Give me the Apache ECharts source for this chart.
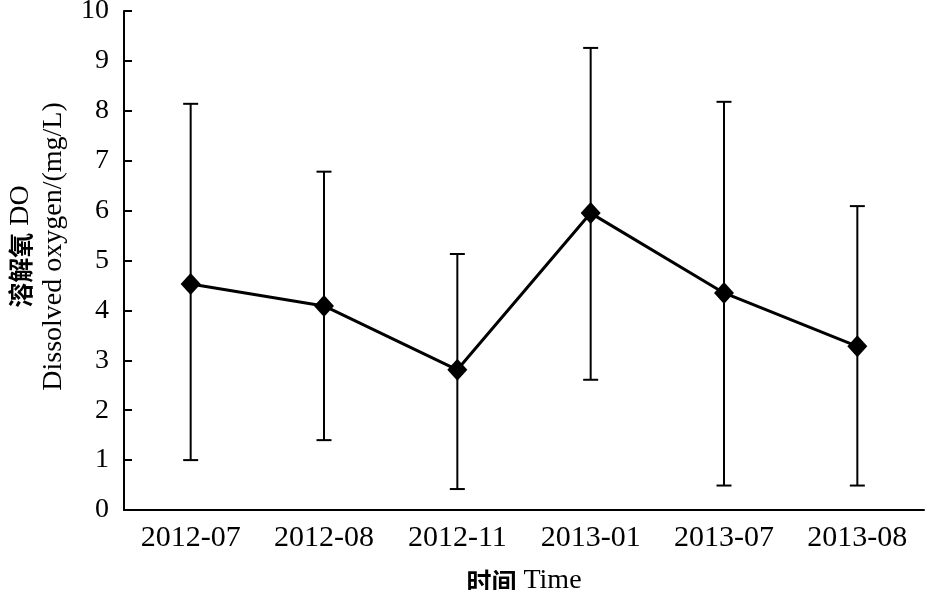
<!DOCTYPE html>
<html><head><meta charset="utf-8">
<script src="https://cdn.jsdelivr.net/npm/echarts@6/dist/echarts.min.js"></script>
<style>html,body{margin:0;padding:0;background:#fff}#c{width:925px;height:590px}</style>
</head><body><div id="c"></div>
<script>
const categories = ['2012-07','2012-08','2012-11','2013-01','2013-07','2013-08'];
const meanValues = [4.53, 4.09, 2.81, 5.95, 4.35, 3.28];
const upperValues = [8.14, 6.78, 5.13, 9.26, 8.18, 6.09];
const lowerValues = [1.0, 1.40, 0.42, 2.61, 0.49, 0.49];
const yTicks = [0,1,2,3,4,5,6,7,8,9,10];

const serif = '"Liberation Serif", "Times New Roman", "Noto Sans CJK SC", serif';
const chart = echarts.init(document.getElementById('c'));
const errData = categories.map((c,i)=>[i, lowerValues[i], upperValues[i]]);
chart.setOption({
  animation:false,
  grid:{left:124, right:1, top:11, bottom:80, containLabel:false, outerBoundsMode:'none'},
  xAxis:{
    type:'category', data:categories, boundaryGap:true,
    axisLine:{lineStyle:{color:'#000', width:2}},
    axisTick:{inside:true, length:8, lineStyle:{color:'#000', width:2}},
    axisLabel:{color:'#000', fontFamily:serif, fontSize:30, margin:13},
    name:'{b|时间} Time', nameLocation:'middle', nameGap:57,
    nameTextStyle:{color:'#000', fontFamily:serif, fontSize:28, fontWeight:'normal',
      rich:{b:{fontFamily:'"Noto Sans CJK SC", sans-serif', fontWeight:'bold', fontSize:25, color:'#000'}}}
  },
  yAxis:{
    type:'value', min:0, max:10, interval:1,
    splitLine:{show:false},
    axisLine:{show:true, lineStyle:{color:'#000', width:2}},
    axisTick:{show:true, inside:true, length:8, lineStyle:{color:'#000', width:2}},
    axisLabel:{color:'#000', fontFamily:serif, fontSize:28, margin:15,
      formatter:v=> yTicks.includes(v) ? String(v) : ''},
    name:'{b|溶解氧} DO\nDissolved oxygen/(mg/L)', nameLocation:'middle', nameGap:53,
    nameRotate:90,
    nameTextStyle:{color:'#000', fontFamily:serif, fontSize:28, lineHeight:33, padding:[0,0,0,28],
      rich:{b:{fontFamily:'"Noto Sans CJK SC", sans-serif', fontWeight:'bold', fontSize:25, color:'#000'}}}
  },
  series:[
    {
      type:'custom', data:errData, z:1,
      renderItem:(params, api)=>{
        const x = api.value(0);
        const lo = api.coord([x, api.value(1)]);
        const hi = api.coord([x, api.value(2)]);
        const hw = 7.5;
        const st = {stroke:'#000', lineWidth:2, fill:null};
        return {type:'group', children:[
          {type:'line', shape:{x1:lo[0], y1:lo[1], x2:hi[0], y2:hi[1]}, style:st},
          {type:'line', shape:{x1:lo[0]-hw, y1:lo[1], x2:lo[0]+hw, y2:lo[1]}, style:st},
          {type:'line', shape:{x1:hi[0]-hw, y1:hi[1], x2:hi[0]+hw, y2:hi[1]}, style:st}
        ]};
      }
    },
    {
      type:'line', data:meanValues, z:3,
      symbol:'diamond', symbolSize:[20,22],
      itemStyle:{color:'#000'},
      lineStyle:{color:'#000', width:3}
    }
  ]
});
</script></body></html>
